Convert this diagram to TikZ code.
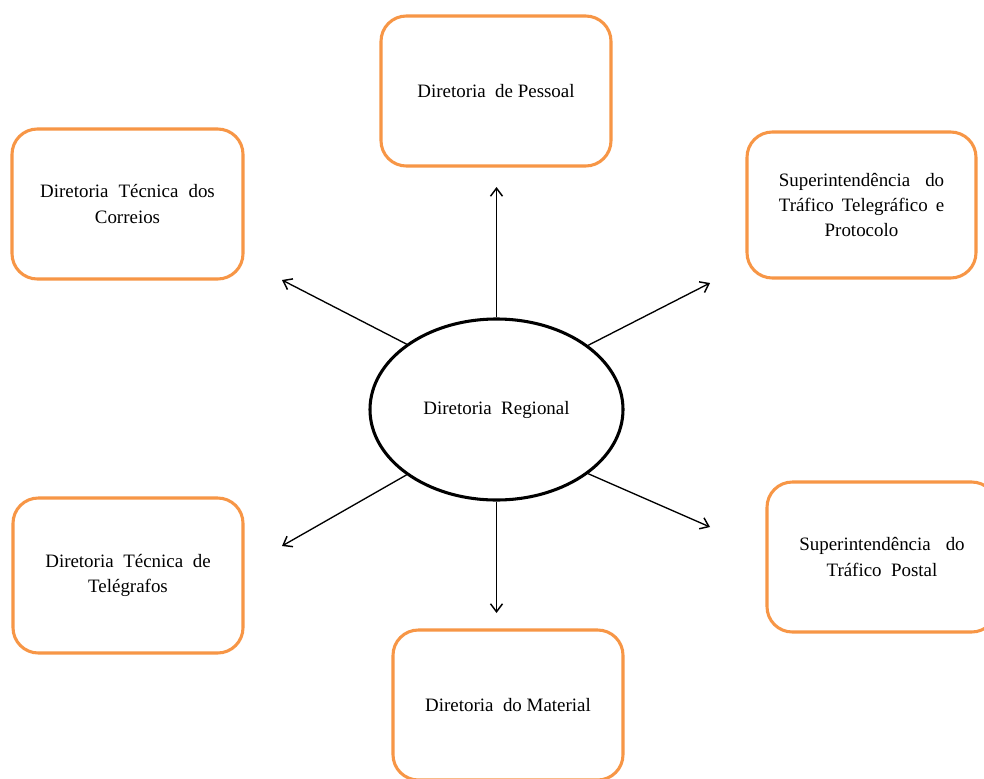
\documentclass[tikz,border=0pt]{standalone}
\usepackage{fontspec}
\setmainfont{Liberation Serif}
\usetikzlibrary{shapes.geometric,arrows.meta}
\definecolor{boxorange}{RGB}{247,150,70}
\tikzset{
  orgbox/.style={draw=boxorange, line width=2.3pt, rounded corners=19pt, fill=white,
    minimum width=172.5pt, minimum height=112.5pt, align=center, inner sep=0pt,
    font=\fontsize{14.2}{18.8}\selectfont},
  central/.style={draw=black, line width=2.3pt, ellipse, minimum width=189.75pt,
    minimum height=135.75pt, inner sep=0pt, font=\fontsize{14.2}{18.8}\selectfont},
  link/.style={line width=1pt, -{Straight Barb[length=6pt,width=9pt,line width=1.1pt]}}
}
\begin{document}
\begin{tikzpicture}[x=0.75pt,y=-0.75pt]
\clip (0,0) rectangle (984,778);
\fill[white] (0,0) rectangle (984,778);
\node[central] (dr) at (496.5,409.5) {Diretoria\ \ Regional};
\node[orgbox] (pes) at (496,91) {Diretoria\ \ de Pessoal};
\node[orgbox, minimum width=173.25pt] (tc) at (127.5,204) {\makebox[131pt][s]{Diretoria Técnica dos}\\Correios};
\node[orgbox, minimum width=171.75pt, minimum height=109.5pt] (tt) at (861.5,205) {\makebox[124pt][s]{Superintendência do}\\\makebox[124pt][s]{Tráfico Telegráfico e}\\Protocolo};
\node[orgbox, minimum height=116.25pt] (tg) at (128,575.5) {\makebox[124pt][s]{Diretoria Técnica de}\\Telégrafos};
\node[orgbox] (tp) at (882,557) {\makebox[124pt][s]{Superintendência\ \ do}\\Tráfico\ \ Postal};
\node[orgbox] (mat) at (508,705) {Diretoria\ \ do Material};
\coordinate (eu) at (496.5,187);
\coordinate (eul) at (282,280);
\coordinate (eur) at (710,283);
\coordinate (edl) at (282,546);
\coordinate (edr) at (710,527);
\coordinate (ed) at (496.5,613);
\draw[link] (dr.north) -- (eu);
\draw[link] (dr.144) -- (eul);
\draw[link] (dr.35) -- (eur);
\draw[link] (dr.216) -- (edl);
\draw[link] (dr.325) -- (edr);
\draw[link] (dr.south) -- (ed);
\end{tikzpicture}
\end{document}
